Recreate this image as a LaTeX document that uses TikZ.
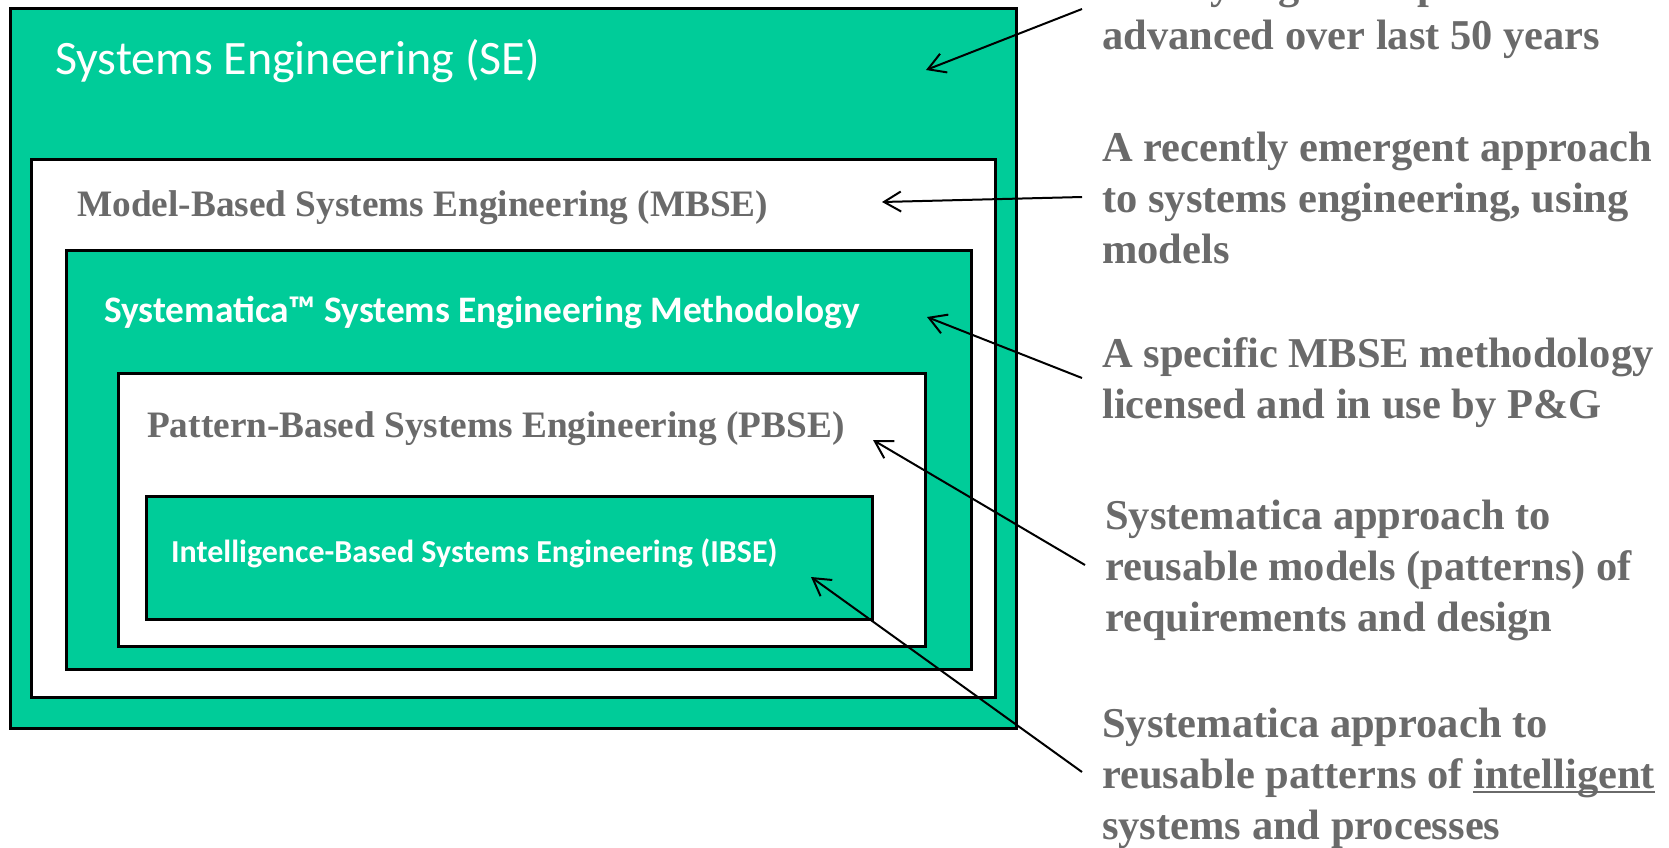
\documentclass[tikz,border=0pt]{standalone}
\usepackage{fontspec}
\setmainfont{Liberation Serif}
\newfontfamily\calfont{Carlito}
\usetikzlibrary{arrows.meta}
\definecolor{sgreen}{RGB}{0,204,153}
\definecolor{sgray}{RGB}{106,106,106}
\newcommand\myul[1]{\setbox0\hbox{#1}\rlap{\rule[-5pt]{\wd0}{2.5pt}}\box0}
\newcommand\lines[1]{\vtop{#1}}
\begin{document}
\begin{tikzpicture}[x=1pt,y=-1pt,
  gbox/.style={draw=black, line width=3pt, fill=sgreen, anchor=north west, inner sep=0pt, outer sep=0pt},
  wbox/.style={draw=black, line width=3pt, fill=white, anchor=north west, inner sep=0pt, outer sep=0pt},
  wlabel/.style={anchor=base west, inner sep=0pt, text=white},
  glabel/.style={anchor=base west, inner sep=0pt, text=sgray, font=\fontsize{37.3}{44}\selectfont\bfseries},
  rtext/.style={anchor=base west, inner sep=0pt, text=sgray, font=\fontsize{42.5}{51}\selectfont\bfseries},
  arr/.style={draw=black, line width=2pt, -{Straight Barb[length=17pt,width=20pt]}}]
\useasboundingbox (0,0) rectangle (1669,847);
% nested boxes
\node[gbox, minimum width=1006pt, minimum height=720pt] (se) at (10,8) {};
\node[wbox, minimum width=964pt, minimum height=538pt] (mbse) at (31,159) {};
\node[gbox, minimum width=905pt, minimum height=419pt] (sys) at (66,250) {};
\node[wbox, minimum width=807pt, minimum height=273pt] (pbse) at (118,373) {};
\node[gbox, minimum width=726pt, minimum height=123pt] (ibse) at (146,496) {};
% box labels
\node[wlabel, font=\calfont\fontsize{48}{56}\selectfont] (lse) at (55,74) {Systems Engineering (SE)};
\node[glabel] (lmbse) at (77,216) {Model-Based Systems Engineering (MBSE)};
\node[wlabel, font=\calfont\fontsize{37.4}{44}\selectfont\bfseries] (lsys) at (104,322) {Systematica™ Systems Engineering Methodology};
\node[glabel] (lpbse) at (147,437) {Pattern-Based Systems Engineering (PBSE)};
\node[wlabel, font=\calfont\fontsize{32}{38}\selectfont\bfseries] (libse) at (171,562) {Intelligence-Based Systems Engineering (IBSE)};
% right-hand texts
\node[rtext] (d0) at (1102,-2) {\lines{\hbox{Widely regarded practice}\hbox{advanced over last 50 years}}};
\node[rtext] (d1) at (1102,161) {\lines{\hbox{A recently emergent approach}\hbox{to systems engineering, using}\hbox{models}}};
\node[rtext] (d2) at (1102,367) {\lines{\hbox{A specific MBSE methodology}\hbox{licensed and in use by P\&G}}};
\node[rtext] (d3) at (1105,529) {\lines{\hbox{Systematica approach to}\hbox{reusable models (patterns) of}\hbox{requirements and design}}};
\node[rtext] (d4) at (1102,737) {\lines{\hbox{Systematica approach to}\hbox{reusable patterns of \myul{intelligent}}\hbox{systems and processes}}};
% arrow ends
\coordinate (a0) at (1082,9);   \coordinate (b0) at (926,70);
\coordinate (a1) at (1082,197); \coordinate (b1) at (882,202);
\coordinate (a2) at (1082,378); \coordinate (b2) at (927,317);
\coordinate (a3) at (1085,565); \coordinate (b3) at (873,440);
\coordinate (a4) at (1082,772); \coordinate (b4) at (811,577);
\draw[arr] (a0) -- (b0);
\draw[arr] (a1) -- (b1);
\draw[arr] (a2) -- (b2);
\draw[arr] (a3) -- (b3);
\draw[arr] (a4) -- (b4);
\end{tikzpicture}
\end{document}
